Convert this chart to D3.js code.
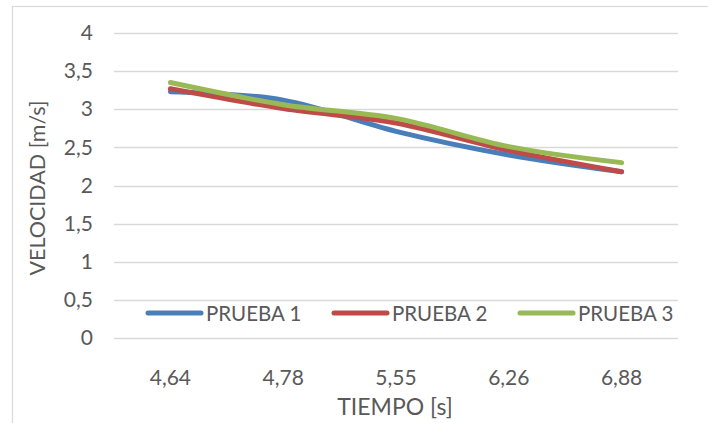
<!DOCTYPE html>
<html>
<head>
<meta charset="utf-8">
<script src="https://cdn.jsdelivr.net/npm/d3@7"></script>
<style>
  html, body { margin: 0; padding: 0; background: #fff; }
  svg { display: block; }
  text { font-family: Lato, "Open Sans", sans-serif; fill: #595959; }
</style>
</head>
<body>
<svg id="chart" width="708" height="423"></svg>
<script>
const categories = ["4,64", "4,78", "5,55", "6,26", "6,88"];
const prueba1 = [3.23, 3.12, 2.71, 2.40, 2.18];
const prueba2 = [3.27, 3.01, 2.82, 2.46, 2.18];
const prueba3 = [3.35, 3.06, 2.88, 2.51, 2.30];
const seriesNames = ["PRUEBA 1", "PRUEBA 2", "PRUEBA 3"];
const seriesColors = ["#4a7ebb", "#be4b48", "#98b954"];
const yTicks = [0, 0.5, 1, 1.5, 2, 2.5, 3, 3.5, 4];

const series = [prueba1, prueba2, prueba3].map((v, i) => ({ name: seriesNames[i], color: seriesColors[i], values: v }));

const svg = d3.select("#chart");
const pLeft = 114, pRight = 678, pTop = 33, pBottom = 338;

// outer border
svg.append("rect").attr("x", 12.5).attr("y", 6.5).attr("width", 720).attr("height", 440)
  .attr("fill", "none").attr("stroke", "#d9d9d9").attr("stroke-width", 1.2);

const x = d3.scaleBand().domain(categories).range([pLeft, pRight]);
const y = d3.scaleLinear().domain([0, 4]).range([pBottom, pTop]);
const fmt = d => String(d).replace(".", ",");

// gridlines
svg.append("g").selectAll("line").data(yTicks).join("line")
  .attr("x1", pLeft).attr("x2", pRight)
  .attr("y1", d => Math.round(y(d)) + 0.5).attr("y2", d => Math.round(y(d)) + 0.5)
  .attr("stroke", "#d9d9d9").attr("stroke-width", 1.3);

// y axis labels
const yAxis = d3.axisLeft(y).tickValues(yTicks).tickFormat(fmt).tickSize(0).tickPadding(0);
const gy = svg.append("g").attr("transform", `translate(${pLeft - 21},0)`).call(yAxis);
gy.select(".domain").remove();
gy.selectAll("text").attr("font-size", 21).attr("fill", "#595959").style("font-family", "Lato, 'Open Sans', sans-serif");

// x axis labels
const xAxis = d3.axisBottom(x).tickSize(0).tickPadding(0);
const gx = svg.append("g").attr("transform", `translate(0,${pBottom + 32})`).call(xAxis);
gx.select(".domain").remove();
gx.selectAll("text").attr("font-size", 21).attr("fill", "#595959").style("font-family", "Lato, 'Open Sans', sans-serif");

// axis titles
svg.append("text").attr("x", 395).attr("y", 415).attr("text-anchor", "middle")
  .attr("font-size", 23).text("TIEMPO [s]");
svg.append("text").attr("transform", `translate(45,188) rotate(-90)`).attr("text-anchor", "middle")
  .attr("font-size", 21.5).text("VELOCIDAD [m/s]");

// lines
const line = d3.line()
  .x((d, i) => x(categories[i]) + x.bandwidth() / 2)
  .y(d => y(d))
  .curve(d3.curveCatmullRom.alpha(0));

svg.append("g").selectAll("path").data(series).join("path")
  .attr("d", s => line(s.values))
  .attr("fill", "none").attr("stroke", s => s.color)
  .attr("stroke-width", 5).attr("stroke-linecap", "round").attr("stroke-linejoin", "round");

// legend
const legendX = [148, 334, 520];
const lg = svg.append("g").selectAll("g").data(series).join("g")
  .attr("transform", (s, i) => `translate(${legendX[i]},313)`);
lg.append("line").attr("x1", 0).attr("x2", 53).attr("y1", 0).attr("y2", 0)
  .attr("stroke", s => s.color).attr("stroke-width", 5).attr("stroke-linecap", "round");
lg.append("text").attr("x", 58).attr("y", 7.5).attr("font-size", 20.5).text(s => s.name);
</script>
</body>
</html>
